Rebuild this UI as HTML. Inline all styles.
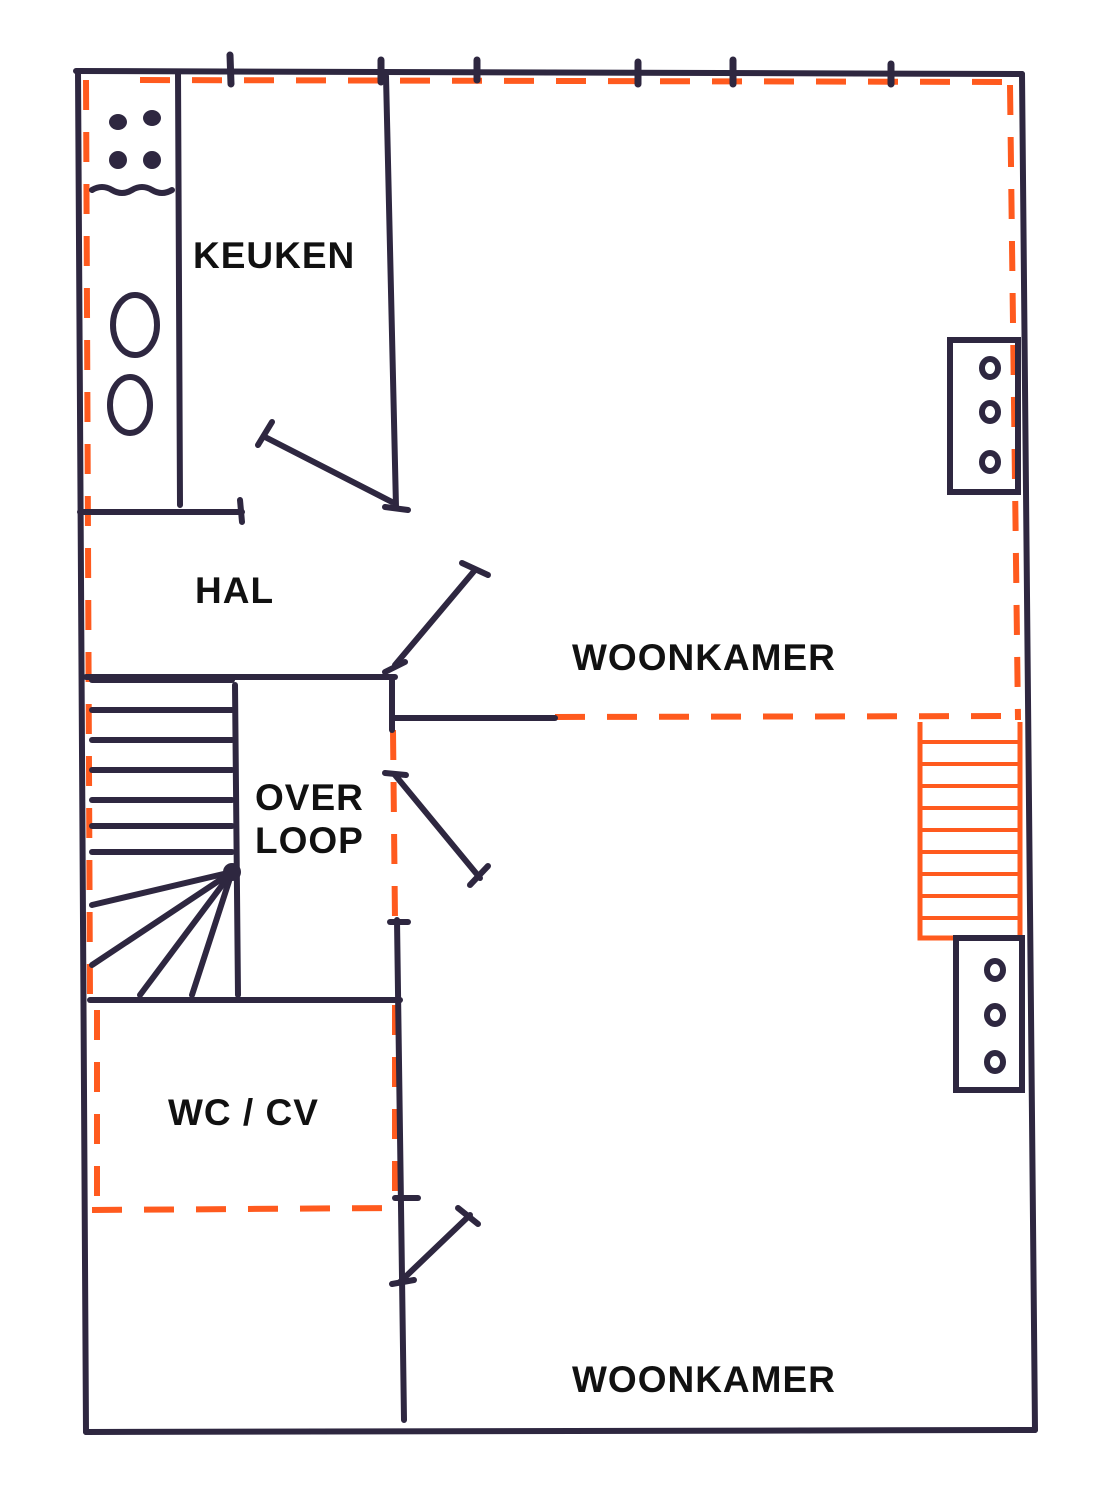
<!DOCTYPE html>
<html><head><style>
html,body{margin:0;padding:0;background:#fff;}
svg{display:block;}
text{font-family:"Liberation Sans",sans-serif;font-weight:bold;fill:#111;font-size:37px;letter-spacing:1px;}
</style></head><body>
<svg width="1114" height="1497" viewBox="0 0 1114 1497" xmlns="http://www.w3.org/2000/svg">
<g fill="none" stroke="#ff5a1e" stroke-width="6" stroke-dasharray="30,22">
<line x1="140" y1="80" x2="1010" y2="82"/>
<line x1="1010" y1="85" x2="1018" y2="720"/>
<line x1="86" y1="80" x2="90" y2="1000"/>
<line x1="555" y1="717" x2="1020" y2="716"/>
<line x1="393" y1="730" x2="395" y2="920"/>
<line x1="97" y1="1010" x2="97" y2="1210"/>
<line x1="92" y1="1210" x2="395" y2="1208"/>
<line x1="395" y1="1005" x2="395" y2="1210"/>
</g>
<g fill="none" stroke="#ff5a1e" stroke-width="5">
<polyline points="920,722 920,938 1020,938 1020,722"/>
<g stroke-width="4">
<line x1="920" y1="742" x2="1020" y2="742"/><line x1="920" y1="764" x2="1020" y2="764"/>
<line x1="920" y1="786" x2="1020" y2="786"/><line x1="920" y1="808" x2="1020" y2="808"/>
<line x1="920" y1="830" x2="1020" y2="830"/><line x1="920" y1="852" x2="1020" y2="852"/>
<line x1="920" y1="874" x2="1020" y2="874"/><line x1="920" y1="896" x2="1020" y2="896"/>
<line x1="920" y1="918" x2="1020" y2="918"/>
</g>
</g>
<g fill="none" stroke="#2e2740" stroke-width="6" stroke-linecap="round">
<line x1="76" y1="71" x2="1022" y2="74"/>
<line x1="78" y1="71" x2="86" y2="1432"/>
<line x1="1022" y1="74" x2="1035" y2="1430"/>
<line x1="86" y1="1432" x2="1035" y2="1430"/>
<line x1="178" y1="72" x2="180" y2="505"/>
<line x1="386" y1="76" x2="396" y2="507"/>
<line x1="80" y1="512" x2="242" y2="512"/>
<line x1="265" y1="437" x2="392" y2="502"/>
<line x1="258" y1="445" x2="272" y2="422"/>
<line x1="385" y1="507" x2="408" y2="510"/>
<line x1="240" y1="500" x2="242" y2="522"/>
<line x1="86" y1="677" x2="395" y2="677"/>
<line x1="395" y1="665" x2="475" y2="570"/>
<line x1="462" y1="563" x2="488" y2="575"/>
<line x1="385" y1="672" x2="405" y2="662"/>
<line x1="392" y1="677" x2="392" y2="730"/>
<line x1="395" y1="718" x2="555" y2="718"/>
<line x1="395" y1="775" x2="480" y2="878"/>
<line x1="385" y1="773" x2="406" y2="775"/>
<line x1="470" y1="885" x2="488" y2="866"/>
<line x1="397" y1="920" x2="404" y2="1420"/>
<line x1="390" y1="922" x2="408" y2="922"/>
<line x1="90" y1="1000" x2="400" y2="1000"/>
<line x1="235" y1="685" x2="238" y2="995"/>
<line x1="92" y1="680" x2="232" y2="680"/>
<line x1="92" y1="710" x2="232" y2="710"/>
<line x1="92" y1="740" x2="232" y2="740"/>
<line x1="92" y1="770" x2="232" y2="770"/>
<line x1="92" y1="800" x2="232" y2="800"/>
<line x1="92" y1="826" x2="232" y2="826"/>
<line x1="92" y1="852" x2="232" y2="852"/>
<line x1="232" y1="872" x2="92" y2="905"/>
<line x1="232" y1="872" x2="92" y2="965"/>
<line x1="232" y1="872" x2="140" y2="995"/>
<line x1="232" y1="872" x2="192" y2="995"/>
<line x1="400" y1="1282" x2="470" y2="1215"/>
<line x1="458" y1="1208" x2="478" y2="1224"/>
<line x1="392" y1="1284" x2="414" y2="1280"/>
<line x1="395" y1="1198" x2="418" y2="1198"/>
<g stroke-width="7">
<line x1="230" y1="55" x2="231" y2="84"/><line x1="381" y1="60" x2="381" y2="82"/>
<line x1="477" y1="60" x2="477" y2="80"/><line x1="638" y1="62" x2="638" y2="84"/>
<line x1="733" y1="60" x2="733" y2="84"/><line x1="891" y1="64" x2="891" y2="84"/>
</g>
<rect x="950" y="340" width="68" height="152"/>
<rect x="956" y="938" width="66" height="152"/>
<ellipse cx="135" cy="325" rx="22" ry="30"/>
<ellipse cx="130" cy="405" rx="20" ry="28"/>
<path d="M92 190 q10 -6 20 0 t20 0 t20 0 t20 0"/>
</g>
<g fill="#2e2740">
<circle cx="232" cy="872" r="9"/>
<ellipse cx="118" cy="122" rx="9" ry="8"/><ellipse cx="152" cy="118" rx="9" ry="8"/>
<ellipse cx="118" cy="160" rx="9" ry="9"/><ellipse cx="152" cy="160" rx="9" ry="9"/>
</g>
<g fill="none" stroke="#2e2740" stroke-width="6">
<ellipse cx="990" cy="368" rx="8" ry="9"/><ellipse cx="990" cy="412" rx="8" ry="9"/><ellipse cx="990" cy="462" rx="8" ry="9"/>
<ellipse cx="995" cy="970" rx="8" ry="9"/><ellipse cx="995" cy="1015" rx="8" ry="9"/><ellipse cx="995" cy="1062" rx="8" ry="9"/>
</g>
<text x="193" y="268">KEUKEN</text>
<text x="195" y="603">HAL</text>
<text x="572" y="670">WOONKAMER</text>
<text x="255" y="810">OVER</text>
<text x="255" y="853">LOOP</text>
<text x="168" y="1125">WC / CV</text>
<text x="572" y="1392">WOONKAMER</text>
</svg>
</body></html>
